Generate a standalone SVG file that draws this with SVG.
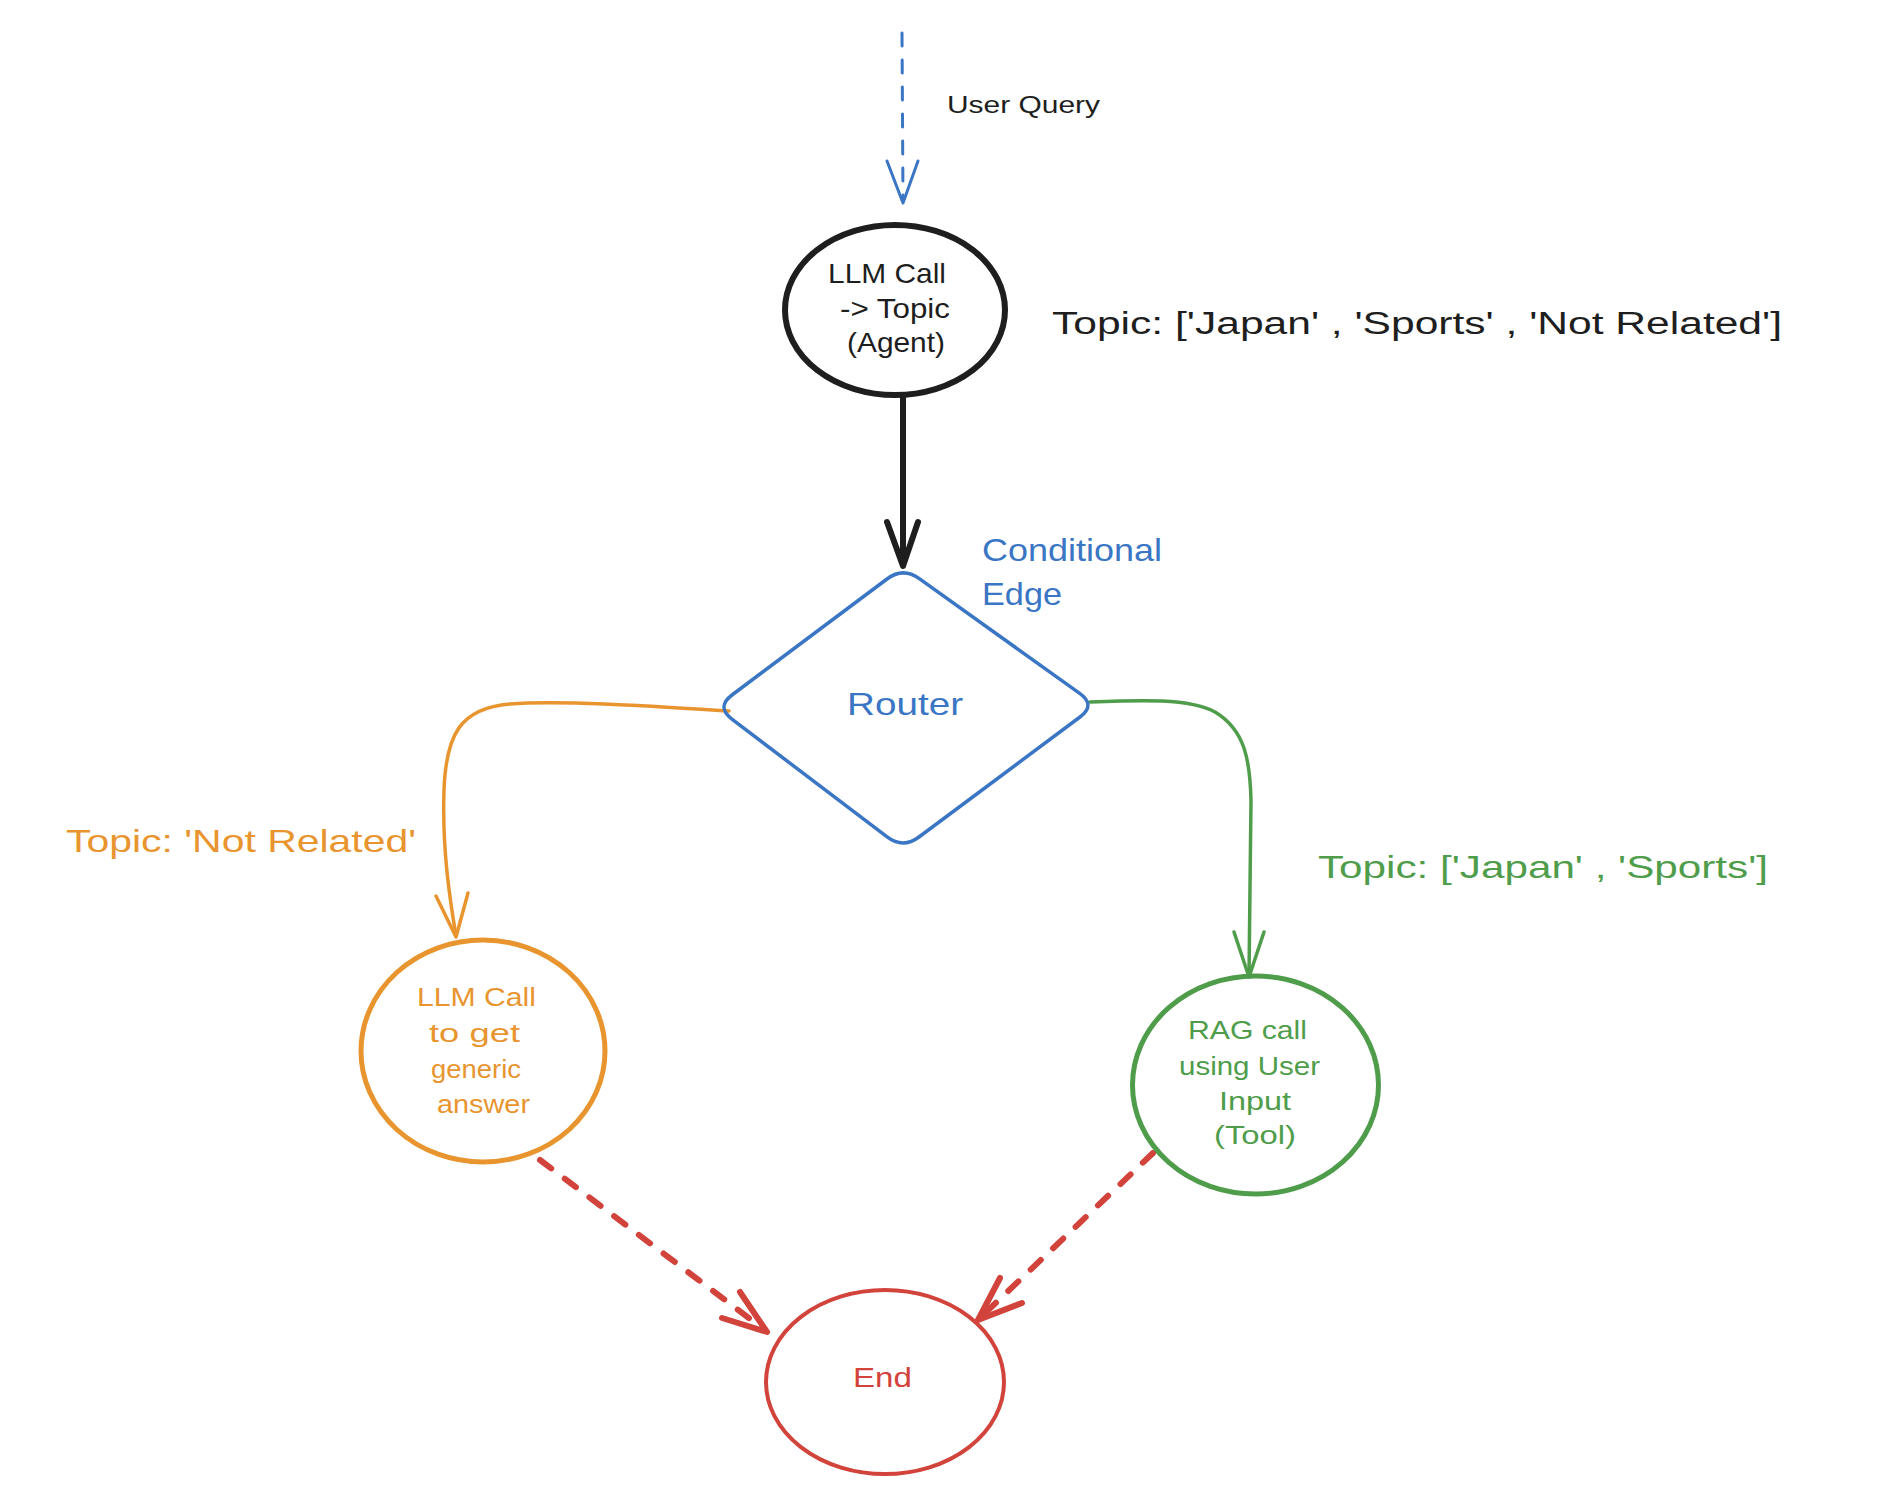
<svg xmlns="http://www.w3.org/2000/svg" width="1878" height="1490" viewBox="0 0 1878 1490">
<style>
text { font-family: "Liberation Sans", Arial, sans-serif; }
.blk { fill: #1e1e1e; }
.blu { fill: #3a76c4; }
.org { fill: #e8952f; }
.grn { fill: #4f9d4b; }
.red { fill: #d1433b; }
.ln { fill: none; stroke-linecap: round; stroke-linejoin: round; }
</style>
<rect width="1878" height="1490" fill="#ffffff"/>
<g id="connectors">
  <g id="edge-user-query">
    <line class="ln" x1="902" y1="33" x2="903" y2="200" stroke="#3a76c4" stroke-width="3" stroke-dasharray="13 14" stroke-linecap="butt"/>
    <polyline class="ln" points="887,161 903,203 918,161" stroke="#3a76c4" stroke-width="3"/>
    <text class="blk" x="947" y="113" font-size="24" textLength="153" lengthAdjust="spacingAndGlyphs">User Query</text>
  </g>
  <g id="edge-llm-router">
    <line class="ln" x1="903" y1="398" x2="903" y2="565" stroke="#1e1e1e" stroke-width="6"/>
    <polyline class="ln" points="887,522 903,566 918,522" stroke="#1e1e1e" stroke-width="6"/>
  </g>
  <g id="edge-router-notrelated">
    <path class="ln" d="M 729,711 C 650,706 560,700 510,704 C 460,708 446,735 444,790 C 442,850 450,900 456,936" stroke="#e8952f" stroke-width="3.5"/>
    <polyline class="ln" points="436,896 456,937 468,893" stroke="#e8952f" stroke-width="3.5"/>
    <text class="org" x="66" y="852" font-size="32" textLength="350" lengthAdjust="spacingAndGlyphs">Topic: 'Not Related'</text>
  </g>
  <g id="edge-router-rag">
    <path class="ln" d="M 1090,702 C 1140,700 1190,698 1215,712 C 1245,730 1250,760 1251,800 L 1249,976" stroke="#4f9d4b" stroke-width="3.5"/>
    <polyline class="ln" points="1234,932 1249,977 1264,932" stroke="#4f9d4b" stroke-width="3.5"/>
    <text class="grn" x="1318" y="878" font-size="32" textLength="450" lengthAdjust="spacingAndGlyphs">Topic: ['Japan' , 'Sports']</text>
  </g>
  <g id="edge-generic-end">
    <line class="ln" x1="540" y1="1160" x2="762" y2="1328" stroke="#d1433b" stroke-width="6" stroke-dasharray="14 17"/>
    <polyline class="ln" points="740,1292 767,1332 722,1318" stroke="#d1433b" stroke-width="6"/>
  </g>
  <g id="edge-rag-end">
    <line class="ln" x1="1153" y1="1153" x2="982" y2="1316" stroke="#d1433b" stroke-width="6" stroke-dasharray="14 17"/>
    <polyline class="ln" points="1000,1278 978,1320 1022,1303" stroke="#d1433b" stroke-width="6"/>
  </g>
</g>
<g id="node-llm-topic">
  <ellipse cx="895" cy="310" rx="110" ry="85" fill="none" stroke="#1e1e1e" stroke-width="6"/>
  <text class="blk" x="828" y="283" font-size="28" textLength="118" lengthAdjust="spacingAndGlyphs">LLM Call</text>
  <text class="blk" x="840" y="318" font-size="28" textLength="110" lengthAdjust="spacingAndGlyphs">-&gt; Topic</text>
  <text class="blk" x="847" y="352" font-size="28" textLength="98" lengthAdjust="spacingAndGlyphs">(Agent)</text>
</g>
<g id="label-topics">
  <text class="blk" x="1052" y="334" font-size="31" textLength="730" lengthAdjust="spacingAndGlyphs">Topic: ['Japan' , 'Sports' , 'Not Related']</text>
</g>
<g id="node-router">
  <path d="M 887,579 Q 903,567 919.3,578.6 L 1079.7,693.4 Q 1096,705 1080,717 L 919,837 Q 903,849 887.1,836.9 L 731.9,719.1 Q 716,707 732,695 Z" fill="none" stroke="#3a76c4" stroke-width="3.5" stroke-linejoin="round"/>
  <text class="blu" x="847" y="715" font-size="32" textLength="116" lengthAdjust="spacingAndGlyphs">Router</text>
</g>
<g id="label-conditional-edge">
  <text class="blu" x="982" y="561" font-size="32" textLength="180" lengthAdjust="spacingAndGlyphs">Conditional</text>
  <text class="blu" x="982" y="605" font-size="32" textLength="80" lengthAdjust="spacingAndGlyphs">Edge</text>
</g>
<g id="node-generic">
  <ellipse cx="483" cy="1051" rx="122" ry="111" fill="none" stroke="#e8952f" stroke-width="5"/>
  <text class="org" x="417" y="1006" font-size="26" textLength="119" lengthAdjust="spacingAndGlyphs">LLM Call</text>
  <text class="org" x="429" y="1042" font-size="26" textLength="91" lengthAdjust="spacingAndGlyphs">to get</text>
  <text class="org" x="431" y="1078" font-size="26" textLength="90" lengthAdjust="spacingAndGlyphs">generic</text>
  <text class="org" x="437" y="1113" font-size="26" textLength="93" lengthAdjust="spacingAndGlyphs">answer</text>
</g>
<g id="node-rag">
  <ellipse cx="1255.5" cy="1085" rx="123" ry="109" fill="none" stroke="#4f9d4b" stroke-width="5"/>
  <text class="grn" x="1188" y="1039" font-size="26" textLength="119" lengthAdjust="spacingAndGlyphs">RAG call</text>
  <text class="grn" x="1179" y="1075" font-size="26" textLength="141" lengthAdjust="spacingAndGlyphs">using User</text>
  <text class="grn" x="1219" y="1110" font-size="26" textLength="72" lengthAdjust="spacingAndGlyphs">Input</text>
  <text class="grn" x="1214" y="1144" font-size="26" textLength="82" lengthAdjust="spacingAndGlyphs">(Tool)</text>
</g>
<g id="node-end">
  <ellipse cx="885" cy="1382" rx="119" ry="92" fill="none" stroke="#d1433b" stroke-width="4"/>
  <text class="red" x="853" y="1387" font-size="28" textLength="59" lengthAdjust="spacingAndGlyphs">End</text>
</g>
</svg>
